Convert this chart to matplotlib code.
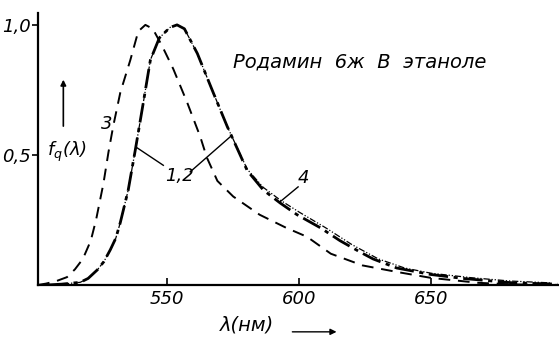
import numpy as np
import matplotlib
matplotlib.use('Agg')
import matplotlib.pyplot as plt

matplotlib.rc('font', family='DejaVu Sans', style='italic', size=13)
matplotlib.rc('mathtext', fontset='dejavusans')

# curve 3 (dashed)
lam3 = [501, 504, 508, 512, 515, 518, 521, 523, 525.8, 527.7, 529.5, 532.2, 536, 539, 541.7,
        544.5, 548, 552.3, 557.6, 562.5, 565, 569, 575, 585, 595, 603, 612, 624, 637, 650, 668, 681, 698]
f3 = [0.0, 0.005, 0.015, 0.03, 0.06, 0.1, 0.17, 0.25, 0.39, 0.51, 0.61, 0.74, 0.865, 0.975, 1.0,
      0.985, 0.92, 0.83, 0.70, 0.57, 0.49, 0.40, 0.34, 0.27, 0.22, 0.185, 0.12, 0.075, 0.05, 0.027, 0.008, 0.002, 0.0]

# curves 1,2 (dash-dot)
lam12 = [505, 510, 517, 520, 523.5, 526, 528.4, 530.5, 532.2, 535.2, 537.9, 540.9, 543.6, 547, 551,
         553.7, 556.5, 561.4, 567.4, 572.7, 580.3, 586.4, 592.8, 599.2, 608, 615.5, 623, 628, 637, 650,
         662, 681, 698]
f12 = [0.0, 0.003, 0.01, 0.025, 0.058, 0.09, 0.135, 0.18, 0.24, 0.365, 0.52, 0.70, 0.865, 0.95, 0.99,
       1.0, 0.985, 0.89, 0.74, 0.61, 0.44, 0.365, 0.315, 0.27, 0.22, 0.17, 0.127, 0.10, 0.065, 0.04,
       0.025, 0.008, 0.003]

# curve 4 (dash-dot-dot), follows 1,2 and sits a bit higher on the tail
lam4 = [505, 510, 517, 520, 523.5, 526, 528.4, 530.5, 532.2, 535.2, 537.9, 540.9, 543.6, 547, 551,
        553.7, 556.5, 561.4, 567.4, 572.7, 580.3, 586.4, 593, 600, 610, 620, 630, 640, 650, 665, 680, 695]
f4 = [0.0, 0.003, 0.01, 0.025, 0.058, 0.09, 0.135, 0.18, 0.24, 0.365, 0.52, 0.70, 0.865, 0.95, 0.99,
      1.0, 0.985, 0.89, 0.74, 0.61, 0.445, 0.375, 0.325, 0.28, 0.22, 0.155, 0.10, 0.065, 0.045, 0.028,
      0.015, 0.008]

fig = plt.figure(figsize=(5.59, 3.40), dpi=100)
ax = fig.add_axes([0.068, 0.162, 0.932, 0.80])

ax.plot(lam3, f3, color='black', lw=1.4, dashes=(6, 4))
ax.plot(lam12, f12, color='black', lw=2.0, dashes=(7, 2, 1.5, 2))
ax.plot(lam4, f4, color='black', lw=0.9, dashes=(5, 1.5, 1, 1.5, 1, 1.5))

ax.set_xlim(501, 698.5)
ax.set_ylim(0, 1.046)
ax.spines['top'].set_visible(False)
ax.spines['right'].set_visible(False)
ax.spines['left'].set_linewidth(1.6)
ax.spines['bottom'].set_linewidth(1.6)
ax.set_xticks([550, 600, 650])
ax.set_xticklabels(['550', '600', '650'])
ax.set_yticks([0.5, 1.0])
ax.set_yticklabels(['0,5', '1,0'])
ax.tick_params(axis='x', direction='in', length=5, width=1.2, pad=4)
ax.tick_params(axis='y', direction='out', length=4, width=1.2, pad=1)

ax.text(574.8, 0.858, 'Родамин  6ж  В  этаноле', fontsize=14, va='center', ha='left')
ax.text(526.9, 0.62, '3', fontsize=13, va='center', ha='center')
ax.text(554.5, 0.42, '1,2', fontsize=13, va='center', ha='center')
ax.text(601.5, 0.41, '4', fontsize=13, va='center', ha='center')
ax.text(504.5, 0.51, 'f$_q$(λ)', fontsize=13, va='center', ha='left')

ax.plot([538.6, 548.5], [0.527, 0.46], color='black', lw=1.0)
ax.plot([558.7, 573.9], [0.435, 0.57], color='black', lw=1.0)
ax.plot([592.8, 599.6], [0.32, 0.377], color='black', lw=1.0)

ax.annotate('', xy=(510.6, 0.80), xytext=(510.6, 0.60),
            arrowprops=dict(arrowstyle='-|>', color='black', lw=1.2, mutation_scale=8))

fig.text(0.393, 0.044, 'λ(нм)', fontsize=14, va='center', ha='left')
fig.patches.append(matplotlib.patches.FancyArrowPatch(
    (0.518, 0.024), (0.607, 0.024), transform=fig.transFigure, arrowstyle='-|>',
    mutation_scale=9, color='black', lw=1.0))

fig.savefig('out.png', dpi=100)
